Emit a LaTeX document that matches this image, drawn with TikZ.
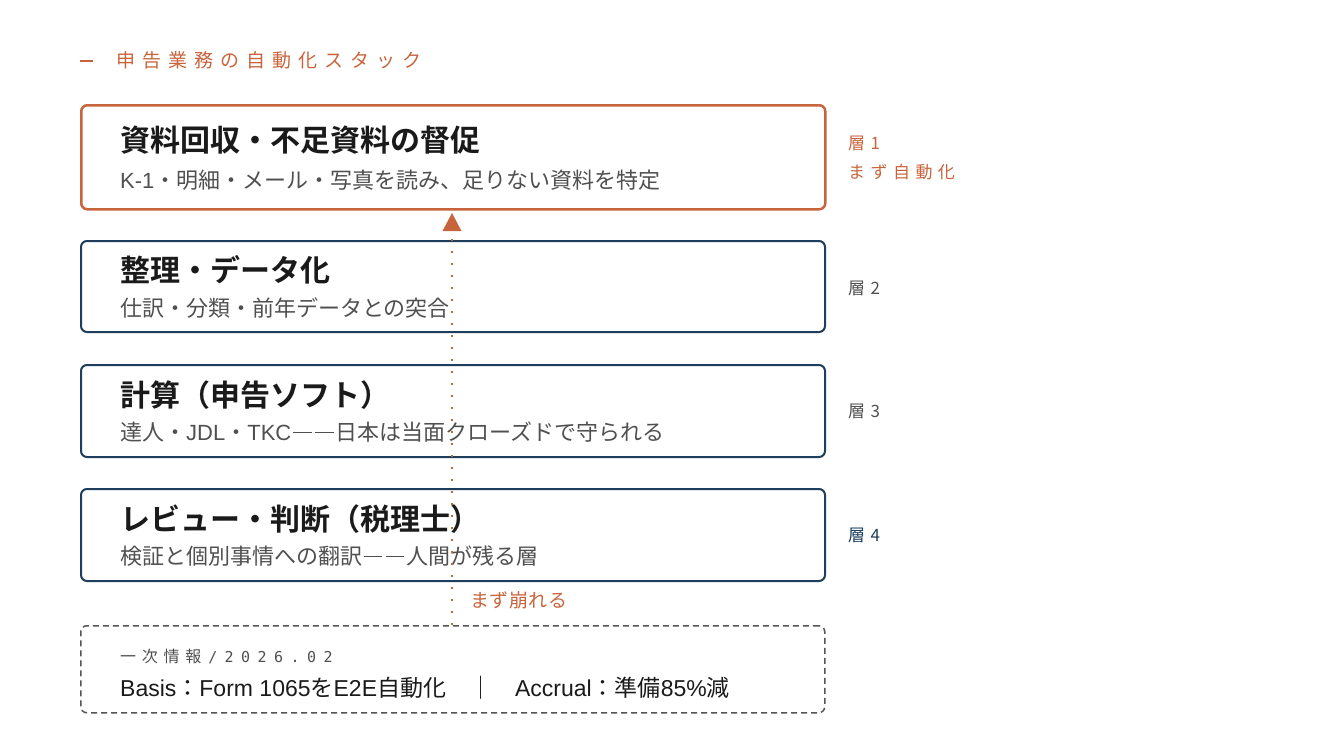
\documentclass[tikz,border=0pt]{standalone}
\usepackage{fontspec}
\setmainfont{Noto Sans CJK JP}
\newfontfamily\cjk{Noto Sans CJK JP}[BoldFont={Noto Sans CJK JP Bold}]
\newfontfamily\cjkwide{Noto Sans CJK JP}[LetterSpace=37]
\newfontfamily\cjkside{Noto Sans CJK JP}[LetterSpace=32]
\newfontfamily\cjksrc{Noto Sans CJK JP}[LetterSpace=36]
\newfontfamily\cjknote{Noto Sans CJK JP}[LetterSpace=3]
\newfontfamily\lat{Liberation Sans}
\newfontfamily\mono{DejaVu Sans Mono}[LetterSpace=50]
\newcommand{\twobars}{\hspace{0.08em}\rule[0.32em]{0.84em}{1.8pt}\hspace{0.16em}\rule[0.32em]{0.84em}{1.8pt}\hspace{0.08em}}
\usetikzlibrary{arrows.meta}
\definecolor{accent}{HTML}{C8643C}
\definecolor{navy}{HTML}{1D3E5C}
\definecolor{txtgray}{HTML}{505050}
\definecolor{ink}{HTML}{1A1A1A}
\definecolor{dashgray}{HTML}{555555}
\tikzset{
  layerbox/.style={draw=navy, line width=2pt, rounded corners=6pt, fill=white,
    minimum width=744pt, anchor=north west, inner sep=0pt},
  firstbox/.style={layerbox, draw=accent, line width=2.5pt},
  srcbox/.style={draw=dashgray, line width=1.5pt, dash pattern=on 6pt off 4pt,
    rounded corners=6pt, minimum width=744pt, minimum height=87pt, anchor=north west, inner sep=0pt},
  headtxt/.style={anchor=west, inner sep=0pt, text=ink, font=\cjk\bfseries\fontsize{30}{36}\selectfont},
  subtxt/.style={anchor=west, inner sep=0pt, text=txtgray, font=\cjk\fontsize{22}{26}\selectfont},
  sidetxt/.style={anchor=west, inner sep=0pt, font=\cjkside\fontsize{17}{22}\selectfont},
  flow/.style={accent, line width=2pt, dash pattern=on 2pt off 10pt},
}
\begin{document}
\begin{tikzpicture}[x=1pt,y=-1pt]
\useasboundingbox (0,0) rectangle (1320,744);
% heading
\coordinate (dashL) at (80,61);
\coordinate (dashR) at (93,61);
\draw[accent, line width=2pt] (dashL) -- (dashR);
\node[anchor=west, inner sep=0pt, text=accent, font=\cjkwide\fontsize{19}{24}\selectfont] (heading) at (116,60) {申告業務の自動化スタック};
% layer boxes
\node[firstbox, minimum height=104pt] (b1) at (80,104) {};
\node[layerbox, minimum height=91pt] (b2) at (80,240) {};
\node[layerbox, minimum height=92pt] (b3) at (80,364) {};
\node[layerbox, minimum height=92pt] (b4) at (80,488) {};
% texts
\node[headtxt] (h1) at (120,140) {資料回収・不足資料の督促};
\node[subtxt] (s1) at (120,180) {{\lat K-1}・明細・メール・写真を読み、足りない資料を特定};
\node[headtxt] (h2) at (120,270) {整理・データ化};
\node[subtxt] (s2) at (120,308) {仕訳・分類・前年データとの突合};
\node[headtxt] (h3) at (120,395) {計算（申告ソフト）};
\node[subtxt] (s3) at (120,432) {達人・{\lat JDL}・{\lat TKC}\twobars 日本は当面クローズドで守られる};
\node[headtxt] (h4) at (120,519) {レビュー・判断（税理士）};
\node[subtxt] (s4) at (120,556) {検証と個別事情への翻訳\twobars 人間が残る層};
% side labels
\node[sidetxt, text=accent] (l1) at (848,143) {層1};
\node[sidetxt, text=accent] (l1b) at (848,172) {まず自動化};
\node[sidetxt, text=txtgray] (l2) at (848,288) {層2};
\node[sidetxt, text=txtgray] (l3) at (848,411) {層3};
\node[sidetxt, text=navy] (l4) at (848,535) {層4};
% source box
\node[srcbox] (src) at (80,625) {};
\node[anchor=west, inner sep=0pt, text=txtgray, font=\cjksrc\fontsize{16}{20}\selectfont] (srchead) at (120,656) {一次情報\hspace{7pt}{\mono\fontsize{15}{20}\selectfont /\hspace{7pt}2026.02}};
\node[anchor=west, inner sep=0pt, text=ink, font=\cjk\fontsize{23}{27}\selectfont] (srcline) at (120,688) {{\lat Basis}：{\lat Form 1065}を{\lat E2E}自動化\hspace{23pt}｜\hspace{23pt}{\lat Accrual}：準備{\lat 85\%}減};
% flow arrow
\coordinate (flowstart) at (452,625);
\coordinate (flowend) at (452,213);
\draw[flow] (flowstart) -- (452,232);
\fill[accent] (flowend) -- (461.5,231) -- (442.5,231) -- cycle;
\node[anchor=west, inner sep=0pt, text=accent, font=\cjknote\fontsize{19}{23}\selectfont] (collapse) at (470,600) {まず崩れる};
\end{tikzpicture}
\end{document}
